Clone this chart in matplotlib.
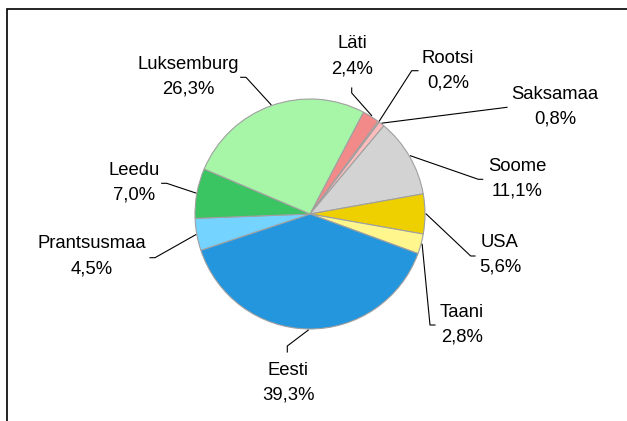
import matplotlib.pyplot as plt
import matplotlib.patches as patches
import numpy as np

# data (clockwise from the top)
countries = ['Läti', 'Rootsi', 'Saksamaa', 'Soome', 'USA', 'Taani',
             'Eesti', 'Prantsusmaa', 'Leedu', 'Luksemburg']
shares = [2.4, 0.2, 0.8, 11.1, 5.6, 2.8, 39.3, 4.5, 7.0, 26.3]
colors = ['#f28a8a', '#ffa8a8', '#ffbcbc', '#d3d3d3', '#eecf00', '#fff78e',
          '#2396de', '#75d3ff', '#3bc462', '#a7f5a7']

W, H = 627, 421
def py(y):                      # pixel row -> data y
    return H - y

# label text position (x centre, first baseline) and leader elbow (pixels)
label_pos = [(352, 48), (448, 63), (555, 99), (517, 171), (500, 247),
             (462, 317), (288, 375), (92, 248), (134, 175), (188, 69)]
elbows = [[(351.7, 88), (351.7, 93)], [(418, 70.7), (411.7, 70.7)],
          [(507, 107.3), (503, 107.8)], [(482.7, 179.3), (478.3, 179.3)],
          [(475, 256), (470.7, 256)], [(435, 325), (430, 325)],
          [(287.3, 352), (287.3, 346)], [(150, 257.7), (155, 257.7)],
          [(161.7, 183.3), (166.7, 183.3)], [(240.7, 77.3), (246, 77.3)]]

plt.rcParams['font.family'] = ['Liberation Sans', 'DejaVu Sans']

fig = plt.figure(figsize=(W / 100, H / 100), dpi=100)
ax = fig.add_axes([0, 0, 1, 1])

cx, cy, r = 310, py(214), 115
wedges, _ = ax.pie(shares, colors=colors, startangle=62.3, counterclock=False,
                   center=(cx, cy), radius=r,
                   wedgeprops=dict(edgecolor='#a0a0a0', linewidth=0.8))

for w, name, val, (tx, ty), el in zip(wedges, countries, shares, label_pos, elbows):
    mid = np.deg2rad((w.theta1 + w.theta2) / 2)
    ex, ey = cx + r * 1.01 * np.cos(mid), cy + r * 1.01 * np.sin(mid)
    xs = [el[0][0], el[1][0], ex]
    ys = [py(el[0][1]), py(el[1][1]), ey]
    ax.plot(xs, ys, color='black', lw=0.8)
    ax.text(tx, py(ty), name, ha='center', va='baseline', fontsize=13.3)
    ax.text(tx, py(ty + 25), ('%.1f%%' % val).replace('.', ','),
            ha='center', va='baseline', fontsize=13.3)

# outer chart frame (runs off the right and bottom edges)
ax.add_patch(patches.Rectangle((7, -50), 700, py(9) + 50, fill=False,
                               edgecolor='black', lw=1.2))

ax.set_xlim(0, W)
ax.set_ylim(0, H)
ax.set_aspect('equal')
ax.axis('off')
fig.savefig('out.png', dpi=100)
